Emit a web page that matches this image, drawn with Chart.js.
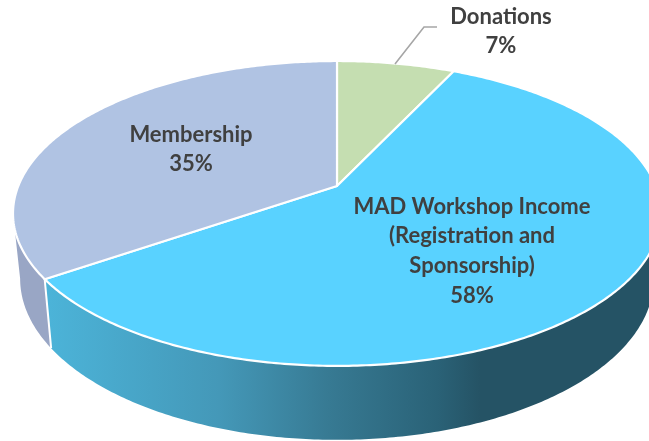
<!DOCTYPE html>
<html>
<head>
<meta charset="utf-8">
<script src="https://cdn.jsdelivr.net/npm/chart.js@4"></script>
<style>
    html, body { margin: 0; padding: 0; background: #fff; overflow: hidden; }
    #wrap { width: 649px; height: 441px; }
</style>
</head>
<body>
<div id="wrap"><canvas id="pieChart"></canvas></div>
<script>
const categories = ['Donations', 'MAD Workshop Income', 'Membership'];
const values = [7, 58.4, 34.6];
const sliceColors = ['#c5deb1', '#59d2ff', '#b0c3e3'];
const labelLines = [
    ['Donations'],
    ['MAD Workshop Income', '(Registration and', 'Sponsorship)'],
    ['Membership']
];

// where the text sits, and how the flat pie is tilted
const labelSpots = [
    { x: 501, y: 16.5 },
    { x: 472, y: 206.5 },
    { x: 191, y: 134.5 }
];
const tilt = { cx: 337, cy: 186, rx: 318.7, ry: 147.5, s: 0.18 };
const wall = { scaleX: 0.978, scaleY: 1.057, drop: 63.7 };

function topPoint(a) {
    const w = 1 - tilt.s * Math.sin(a);
    return {
        x: tilt.cx + tilt.rx * Math.cos(a) / w,
        y: tilt.cy + tilt.ry * Math.sin(a) / w
    };
}

function bottomPoint(a) {
    const p = topPoint(a);
    return {
        x: tilt.cx + (p.x - tilt.cx) * wall.scaleX,
        y: tilt.cy + wall.drop + (p.y - tilt.cy) * wall.scaleY
    };
}

function traceArc(ctx, pointAt, from, to) {
    const steps = Math.max(2, Math.ceil(Math.abs(to - from) * 90));
    for (let i = 0; i <= steps; i++) {
        const p = pointAt(from + (to - from) * i / steps);
        ctx.lineTo(p.x, p.y);
    }
}

const tiltedPie = {
    id: 'tiltedPie',
    beforeDatasetDraw(chart) {
        const ctx = chart.ctx;
        const arcs = chart.getDatasetMeta(0).data;
        const rightEdge = Math.asin(tilt.s);
        const leftEdge = Math.PI - rightEdge;

        const mad = arcs[1];
        const member = arcs[2];

        const grad = ctx.createLinearGradient(44, 0, 649, 0);
        grad.addColorStop(0, '#4cb4d9');
        grad.addColorStop(0.29, '#4498b8');
        grad.addColorStop(0.47, '#377a93');
        grad.addColorStop(0.65, '#2a6277');
        grad.addColorStop(0.72, '#255365');
        grad.addColorStop(1, '#255365');

        // side wall, only the part facing us
        ctx.save();
        ctx.beginPath();
        traceArc(ctx, topPoint, rightEdge, mad.endAngle);
        traceArc(ctx, bottomPoint, mad.endAngle, rightEdge);
        ctx.closePath();
        ctx.fillStyle = grad;
        ctx.fill();

        ctx.beginPath();
        traceArc(ctx, topPoint, member.startAngle, leftEdge);
        traceArc(ctx, bottomPoint, leftEdge, member.startAngle);
        ctx.closePath();
        ctx.fillStyle = '#99a6c5';
        ctx.fill();

        const a = topPoint(mad.endAngle);
        const b = bottomPoint(mad.endAngle);
        ctx.beginPath();
        ctx.moveTo(a.x, a.y);
        ctx.lineTo(b.x, b.y);
        ctx.strokeStyle = '#ffffff';
        ctx.lineWidth = 2;
        ctx.stroke();

        // top face
        arcs.forEach((arc, i) => {
            ctx.beginPath();
            ctx.moveTo(tilt.cx, tilt.cy);
            traceArc(ctx, topPoint, arc.startAngle, arc.endAngle);
            ctx.closePath();
            ctx.fillStyle = sliceColors[i];
            ctx.fill();
            ctx.strokeStyle = '#ffffff';
            ctx.lineWidth = 2.2;
            ctx.lineJoin = 'round';
            ctx.stroke();
        });
        ctx.restore();
        return false;
    },
    afterDatasetsDraw(chart) {
        const ctx = chart.ctx;
        const total = values.reduce((sum, v) => sum + v, 0);

        // leader line for the small slice
        ctx.save();
        ctx.beginPath();
        ctx.moveTo(395, 64);
        ctx.lineTo(424, 27);
        ctx.lineTo(437, 27);
        ctx.strokeStyle = '#a6a6a6';
        ctx.lineWidth = 1.6;
        ctx.stroke();

        ctx.font = 'bold 22px Lato';
        ctx.fillStyle = '#404040';
        ctx.textAlign = 'center';
        ctx.textBaseline = 'middle';
        categories.forEach((name, i) => {
            const lines = labelLines[i].concat(Math.round(values[i] / total * 100) + '%');
            lines.forEach((line, n) => {
                ctx.fillText(line, labelSpots[i].x, labelSpots[i].y + n * 29.7);
            });
        });
        ctx.restore();
    }
};

window.onload = () => {
    new Chart(document.getElementById('pieChart'), {
        type: 'pie',
        data: {
            labels: categories,
            datasets: [{ data: values, backgroundColor: sliceColors }]
        },
        options: {
            responsive: true,
            maintainAspectRatio: false,
            animation: false,
            plugins: {
                legend: { display: false },
                tooltip: { enabled: false }
            }
        },
        plugins: [tiltedPie]
    });
};
</script>
</body>
</html>
